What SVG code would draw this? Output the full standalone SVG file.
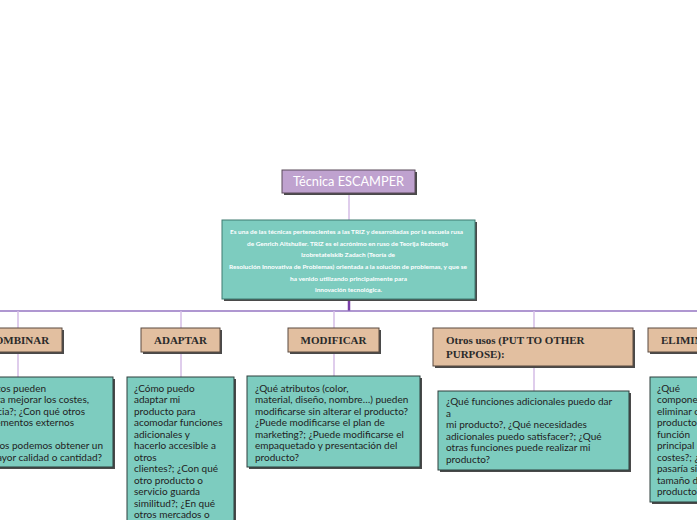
<svg xmlns="http://www.w3.org/2000/svg" width="697" height="520" viewBox="0 0 697 520">
<style>
.sh{fill:#4a4a4a}
.hd{fill:#e2bfa0;stroke:#5a4a40;stroke-width:1}
.ct{fill:#7dccbf;stroke:#2f3f3c;stroke-width:1}
.ht{font-family:"Liberation Serif","DejaVu Serif",serif;font-weight:bold;font-size:11px;fill:#2a2a2a}
.tx{font-family:Lato,"Noto Sans",sans-serif;font-size:10px;fill:#222}
.ds{font-family:Lato,"Liberation Sans",sans-serif;font-weight:bold;font-size:5.5px;fill:#ffffff}
.drop{stroke:#d4bce6;stroke-width:1.5;fill:none}
</style>
<rect width="697" height="520" fill="#ffffff"/>
<g id="connectors">
<line class="drop" x1="349" y1="193" x2="349" y2="220"/>
<line x1="349" y1="299" x2="349" y2="311" stroke="#7a3fa8" stroke-width="2.5"/>
<line x1="0" y1="311" x2="697" y2="311" stroke="#9474c2" stroke-width="1.5"/>
<line class="drop" x1="18" y1="311" x2="18" y2="328"/>
<line class="drop" x1="18" y1="352" x2="18" y2="377"/>
<line class="drop" x1="181" y1="311" x2="181" y2="328"/>
<line class="drop" x1="181" y1="352" x2="181" y2="377"/>
<line class="drop" x1="334" y1="311" x2="334" y2="328"/>
<line class="drop" x1="334" y1="352" x2="334" y2="376"/>
<line class="drop" x1="534" y1="311" x2="534" y2="328"/>
<line class="drop" x1="534" y1="366" x2="534" y2="391"/>
</g>
<g id="title">
<rect class="sh" x="284" y="172" width="133" height="23"/>
<rect x="282" y="170" width="133" height="23" fill="#bfa2cf" stroke="#5a4a5a" stroke-width="1"/>
<text x="348.5" y="186" text-anchor="middle" font-family="Lato,'Noto Sans',sans-serif" font-size="12.5" fill="#ffffff" textLength="111" lengthAdjust="spacingAndGlyphs">Técnica ESCAMPER</text>
</g>
<g id="descripcion">
<rect class="sh" x="224" y="222" width="253" height="79"/>
<rect x="222" y="220" width="253" height="79" fill="#7dccbf" stroke="#3f7a70" stroke-width="1"/>
<text class="ds" x="346.5" y="234" text-anchor="middle" textLength="233" lengthAdjust="spacingAndGlyphs">Es una de las técnicas pertenecientes a las TRIZ y desarrolladas por la escuela rusa</text>
<text class="ds" x="347.5" y="245.5" text-anchor="middle" textLength="201" lengthAdjust="spacingAndGlyphs">de Genrich Altshuller. TRIZ es el acrónimo en ruso de Teorija Rezbenija</text>
<text class="ds" x="348" y="257" text-anchor="middle" textLength="94" lengthAdjust="spacingAndGlyphs">Izobretatelskib Zadach (Teoría de</text>
<text class="ds" x="348" y="269" text-anchor="middle" textLength="238" lengthAdjust="spacingAndGlyphs">Resolución Innovativa de Problemas) orientada a la solución de problemas, y que se</text>
<text class="ds" x="348.5" y="280.5" text-anchor="middle" textLength="117" lengthAdjust="spacingAndGlyphs">ha venido utilizando principalmente para</text>
<text class="ds" x="348.5" y="292" text-anchor="middle" textLength="67" lengthAdjust="spacingAndGlyphs">innovación tecnológica.</text>
</g>
<g id="combinar">
<rect class="sh" x="-25" y="330" width="89" height="24"/>
<rect class="hd" x="-27" y="328" width="89" height="24"/>
<text class="ht" x="18" y="344" text-anchor="middle">COMBINAR</text>
<rect class="sh" x="-58" y="379" width="173" height="90"/>
<rect class="ct" x="-60" y="377" width="173" height="90"/>
<text class="tx" x="46" y="391.5" text-anchor="end">elementos pueden</text>
<text class="tx" x="89" y="403" text-anchor="end">para mejorar los costes,</text>
<text class="tx" x="85" y="414.5" text-anchor="end">eficiencia?; ¿Con qué otros</text>
<text class="tx" x="74" y="426" text-anchor="end">elementos externos</text>
<text class="tx" x="103" y="449" text-anchor="end">productos podemos obtener un</text>
<text class="tx" x="102" y="460.5" text-anchor="end">de mayor calidad o cantidad?</text>
</g>
<g id="adaptar">
<rect class="sh" x="143" y="330" width="79" height="24"/>
<rect class="hd" x="141" y="328" width="79" height="24"/>
<text class="ht" x="180.5" y="344" text-anchor="middle">ADAPTAR</text>
<rect class="sh" x="129" y="379" width="107" height="160"/>
<rect class="ct" x="127" y="377" width="107" height="160"/>
<text class="tx" x="134" y="391.5">¿Cómo puedo</text>
<text class="tx" x="134" y="403">adaptar mi</text>
<text class="tx" x="134" y="414.5">producto para</text>
<text class="tx" x="134" y="426">acomodar funciones</text>
<text class="tx" x="134" y="437.5">adicionales y</text>
<text class="tx" x="134" y="449">hacerlo accesible a</text>
<text class="tx" x="134" y="460.5">otros</text>
<text class="tx" x="134" y="472">clientes?; ¿Con qué</text>
<text class="tx" x="134" y="483.5">otro producto o</text>
<text class="tx" x="134" y="495">servicio guarda</text>
<text class="tx" x="134" y="506.5">similitud?; ¿En qué</text>
<text class="tx" x="134" y="518">otros mercados o</text>
</g>
<g id="modificar">
<rect class="sh" x="290" y="330" width="91" height="24"/>
<rect class="hd" x="288" y="328" width="91" height="24"/>
<text class="ht" x="333.5" y="344" text-anchor="middle">MODIFICAR</text>
<rect class="sh" x="249" y="378" width="173" height="91"/>
<rect class="ct" x="247" y="376" width="173" height="91"/>
<text class="tx" x="255" y="391.5">¿Qué atributos (color,</text>
<text class="tx" x="255" y="403">material, diseño, nombre…) pueden</text>
<text class="tx" x="255" y="414.5">modificarse sin alterar el producto?</text>
<text class="tx" x="255" y="426">¿Puede modificarse el plan de</text>
<text class="tx" x="255" y="437.5">marketing?; ¿Puede modificarse el</text>
<text class="tx" x="255" y="449">empaquetado y presentación del</text>
<text class="tx" x="255" y="460.5">producto?</text>
</g>
<g id="otros-usos">
<rect class="sh" x="435" y="330" width="200" height="38"/>
<rect class="hd" x="433" y="328" width="200" height="38"/>
<text class="ht" x="446" y="344">Otros usos (PUT TO OTHER</text>
<text class="ht" x="446" y="357.5">PURPOSE):</text>
<rect class="sh" x="440" y="393" width="191" height="79"/>
<rect class="ct" x="438" y="391" width="191" height="79"/>
<text class="tx" x="446" y="405">¿Qué funciones adicionales puedo dar</text>
<text class="tx" x="446" y="416.5">a</text>
<text class="tx" x="446" y="428">mi producto?, ¿Qué necesidades</text>
<text class="tx" x="446" y="439.5">adicionales puedo satisfacer?; ¿Qué</text>
<text class="tx" x="446" y="451">otras funciones puede realizar mi</text>
<text class="tx" x="446" y="462.5">producto?</text>
</g>
<g id="eliminar">
<rect class="sh" x="650" y="330" width="90" height="24"/>
<rect class="hd" x="648" y="328" width="90" height="24"/>
<text class="ht" x="661" y="344">ELIMINAR</text>
<rect class="sh" x="652" y="379" width="100" height="125"/>
<rect class="ct" x="650" y="377" width="100" height="125"/>
<text class="tx" x="657" y="391.5">¿Qué</text>
<text class="tx" x="657" y="403">componentes</text>
<text class="tx" x="657" y="414.5">eliminar o</text>
<text class="tx" x="657" y="426">producto sin</text>
<text class="tx" x="657" y="437.5">función</text>
<text class="tx" x="657" y="449">principal</text>
<text class="tx" x="657" y="460.5">costes?; ¿Qué</text>
<text class="tx" x="657" y="472">pasaría si</text>
<text class="tx" x="657" y="483.5">tamaño del</text>
<text class="tx" x="657" y="495">producto?</text>
</g>
</svg>
